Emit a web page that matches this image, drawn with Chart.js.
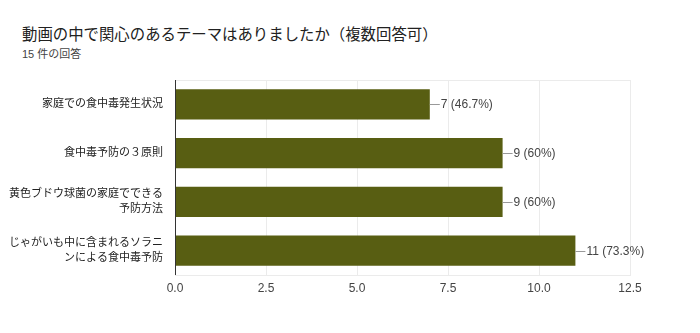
<!DOCTYPE html>
<html>
<head>
<meta charset="utf-8">
<script src="https://cdn.jsdelivr.net/npm/chart.js@4/dist/chart.umd.min.js"></script>
<style>
  body { margin: 0; background: #fff; font-family: 'Liberation Sans', 'Noto Sans CJK JP', sans-serif; }
  #wrap { position: relative; width: 700px; height: 333px; }
  #title { position: absolute; left: 22px; top: 22px; font-size: 15.4px; color: #212121; white-space: nowrap; }
  #sub { position: absolute; left: 22px; top: 45px; font-size: 11px; color: #444; white-space: nowrap; }
  canvas { position: absolute; left: 0; top: 0; }
</style>
</head>
<body>
<div id="wrap">
  <div id="title">動画の中で関心のあるテーマはありましたか（複数回答可）</div>
  <div id="sub">15 件の回答</div>
  <canvas id="barChart" width="700" height="333"></canvas>
</div>
<script>
// answers and counts
var topics = [
  ['家庭での食中毒発生状況'],
  ['食中毒予防の３原則'],
  ['黄色ブドウ球菌の家庭でできる', '予防方法'],
  ['じゃがいも中に含まれるソラニ', 'ンによる食中毒予防']
];
var counts = [7, 9, 9, 11];
var percents = ['46.7%', '60%', '60%', '73.3%'];
var xTicks = [0, 2.5, 5, 7.5, 10, 12.5];

var fontFamily = "'Liberation Sans', 'Noto Sans CJK JP', sans-serif";

// light frame around the plot plus the dark left axis
var framePlugin = {
  id: 'frame',
  beforeDatasetsDraw: function(chart) {
    var a = chart.chartArea, ctx = chart.ctx;
    ctx.save();
    ctx.strokeStyle = '#ebebeb';
    ctx.lineWidth = 1;
    ctx.beginPath();
    ctx.moveTo(a.left, a.top + 0.5);
    ctx.lineTo(a.right, a.top + 0.5);
    ctx.stroke();
    ctx.restore();
  },
  afterDatasetsDraw: function(chart) {
    var a = chart.chartArea, ctx = chart.ctx;
    ctx.save();
    ctx.strokeStyle = '#333';
    ctx.lineWidth = 1;
    ctx.beginPath();
    ctx.moveTo(a.left + 0.5, a.top);
    ctx.lineTo(a.left + 0.5, a.bottom);
    ctx.stroke();
    ctx.restore();
  }
};

// "n (p%)" labels with a short leader line at the end of each bar
var valueLabels = {
  id: 'valueLabels',
  afterDatasetsDraw: function(chart) {
    var ctx = chart.ctx;
    var meta = chart.getDatasetMeta(0);
    ctx.save();
    ctx.font = '12px ' + fontFamily;
    ctx.textBaseline = 'middle';
    meta.data.forEach(function(bar, i) {
      var x = bar.x, y = Math.round(bar.y) + 0.5;
      ctx.strokeStyle = '#999';
      ctx.lineWidth = 1;
      ctx.beginPath();
      ctx.moveTo(x, y);
      ctx.lineTo(x + 10, y);
      ctx.stroke();
      ctx.fillStyle = '#444';
      ctx.fillText(counts[i] + ' (' + percents[i] + ')', x + 11, y);
    });
    ctx.restore();
  }
};

var ctx = document.getElementById('barChart').getContext('2d');
var chartInstance = new Chart(ctx, {
  type: 'bar',
  data: {
    labels: topics,
    datasets: [{
      data: counts,
      backgroundColor: '#585e12',
      borderWidth: 0,
      categoryPercentage: 1,
      barPercentage: 0.62
    }]
  },
  options: {
    indexAxis: 'y',
    responsive: false,
    animation: false,
    layout: { padding: { left: 0, top: 80, right: 70, bottom: 0 } },
    plugins: {
      legend: { display: false },
      tooltip: { enabled: false }
    },
    scales: {
      x: {
        min: 0,
        max: 12.5,
        afterBuildTicks: function(scale) {
          scale.ticks = xTicks.map(function(v) { return { value: v }; });
        },
        ticks: {
          color: '#444',
          font: { family: fontFamily, size: 12 },
          padding: 6,
          callback: function(v) { return Number(v).toFixed(1); }
        },
        grid: { color: '#ebebeb', drawTicks: false },
        border: { color: '#ebebeb' },
        afterFit: function(scale) { scale.height = 58; }
      },
      y: {
        ticks: {
          color: '#222',
          font: { family: fontFamily, size: 11, lineHeight: 1.35 },
          padding: 4
        },
        grid: { display: false },
        border: { display: false },
        afterFit: function(scale) { scale.width = 175; }
      }
    }
  },
  plugins: [framePlugin, valueLabels]
});
</script>
</body>
</html>
